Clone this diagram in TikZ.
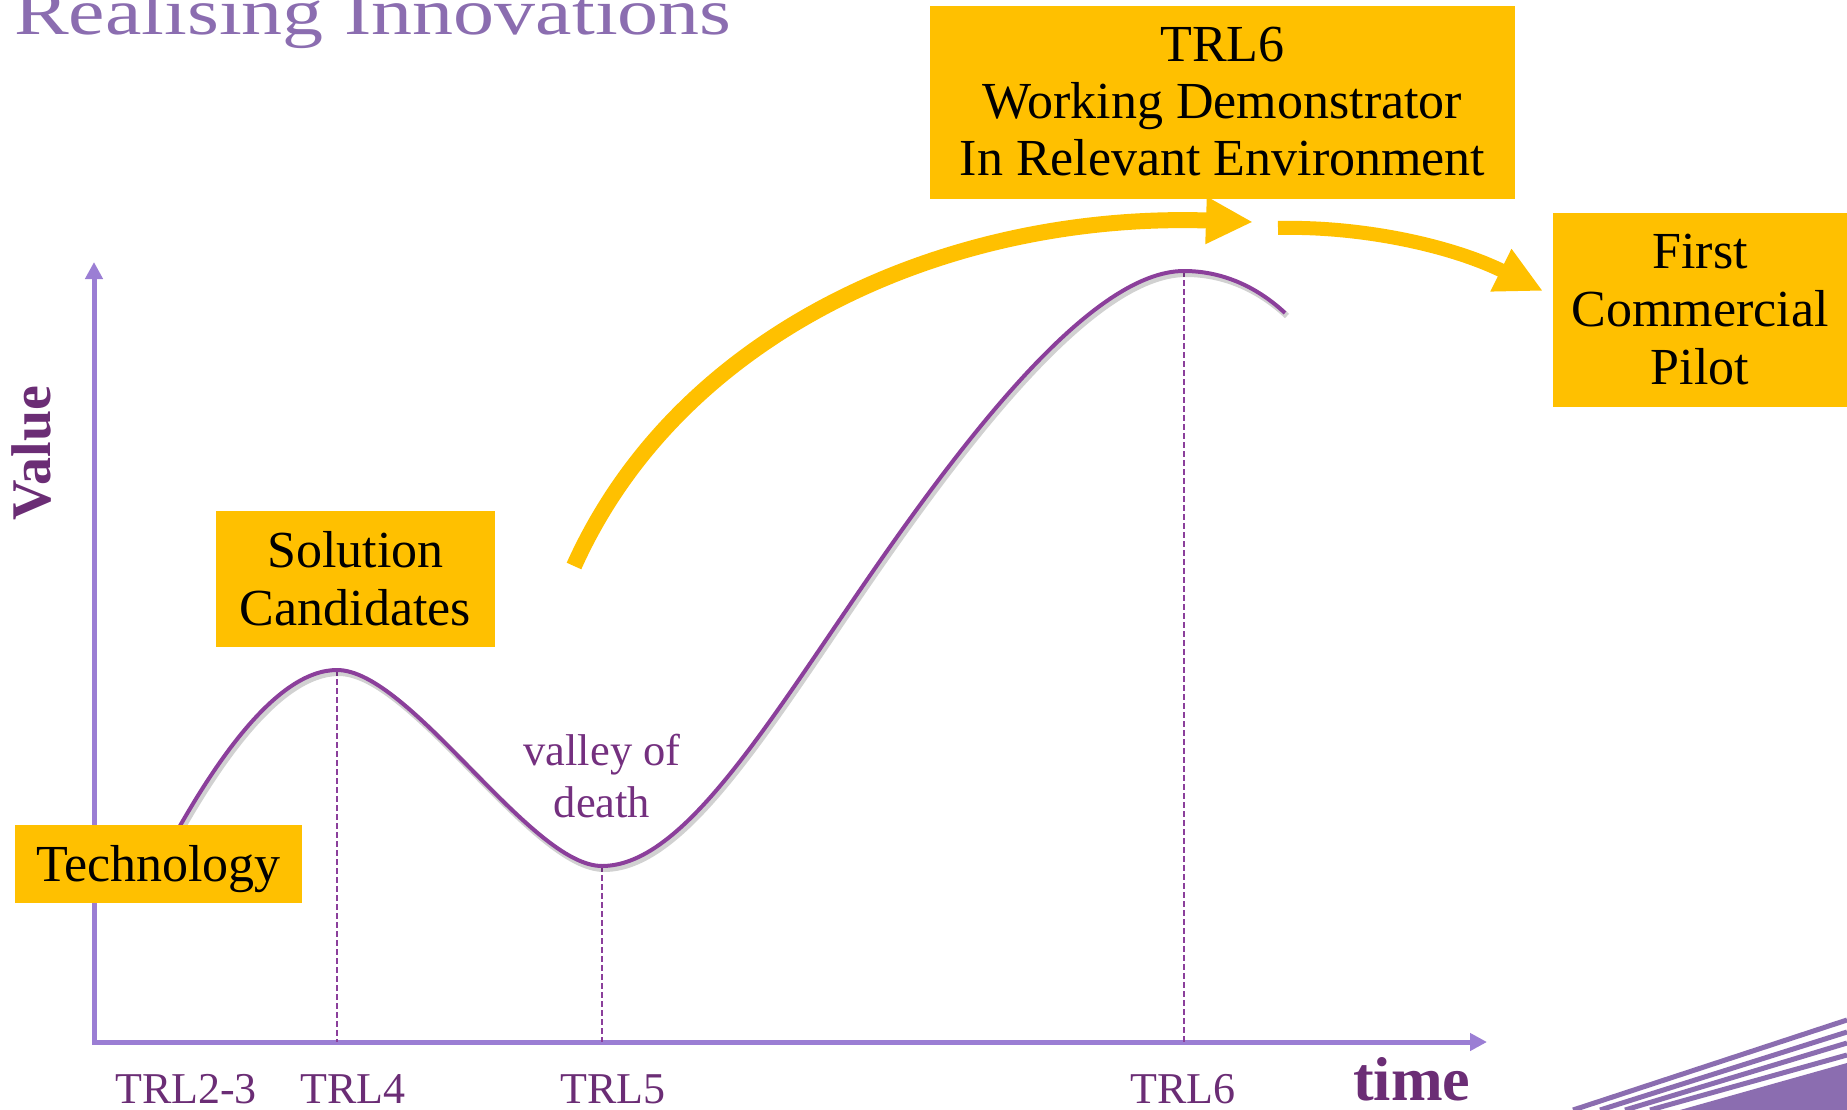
\documentclass[tikz,border=0pt]{standalone}
\usepackage{fontspec}
\setmainfont{Liberation Serif}
\usetikzlibrary{arrows.meta}
\definecolor{boxyellow}{HTML}{FFC000}
\definecolor{curvec}{HTML}{8B3F9B}
\definecolor{axisc}{HTML}{9B7ED4}
\definecolor{labc}{HTML}{6B2D75}
\definecolor{titlec}{HTML}{8B6DB0}
\definecolor{valc}{HTML}{74307F}
\begin{document}
\begin{tikzpicture}[x=1pt,y=-1pt,
  yboxnode/.style={fill=boxyellow, inner sep=0pt, outer sep=0pt, align=center, text=black,
                   font={\fontsize{52}{58}\selectfont}},
  axisline/.style={draw=axisc, line width=5pt,
                   {Triangle[length=17pt,width=17pt]}-{Triangle[length=17pt,width=17pt]}},
  curveline/.style={draw=curvec, line width=4pt,
                   preaction={draw=black, opacity=0.18, line width=6pt,
                              transform canvas={xshift=2pt,yshift=-3pt}}},
  dashline/.style={draw=curvec, line width=1.6pt, dash pattern=on 6pt off 3pt},
  yarrow/.style={draw=boxyellow, -{Triangle[length=47pt,width=44pt]}},
  trl/.style={text=labc, inner sep=0pt, anchor=base, font={\fontsize{44}{50}\selectfont}},
  axlabel/.style={text=labc, inner sep=0pt, font={\fontsize{56}{60}\selectfont\bfseries}},
  valtext/.style={text=valc, inner sep=0pt, align=center, font={\fontsize{44.5}{52}\selectfont}},
  stripe/.style={draw=titlec, line width=5pt}
]
\useasboundingbox (0,0) rectangle (1847,1110);

% title (cropped at top, as in the reference)
\node[anchor=base west, inner sep=0pt, text=titlec, font={\fontsize{82}{82}\selectfont}]
  (title) at (14,35) {\scalebox{1}[0.8]{Realising Innovations}};

% axes
\coordinate (O) at (94,1042);
\coordinate (yend) at (94,262);
\coordinate (xend) at (1487,1042);
\draw[axisline] (yend) -- (O) -- (xend);

% curve
\coordinate (c0) at (172,840);
\coordinate (pk1) at (337,670);
\coordinate (val) at (602,866);
\coordinate (mid) at (860,590);
\coordinate (pk2) at (1184,271);
\coordinate (cend) at (1285,313);
\draw[dashline] (pk1) -- (pk1 |- O);
\draw[dashline] (val) -- (val |- O);
\draw[dashline] (pk2) -- (pk2 |- O);
\draw[curveline] (c0) .. controls (212,768) and (275,670) .. (pk1)
  .. controls (410,670) and (530,866) .. (val)
  .. controls (680,866) and (760,736) .. (mid)
  .. controls (960,444) and (1090,271) .. (pk2)
  .. controls (1220,271) and (1255,285) .. (cend);

% yellow arrows
\coordinate (a1s) at (574,566);
\coordinate (a1e) at (1253,222);
\draw[yarrow, line width=16pt] (a1s) .. controls (680,330) and (950,212) .. (a1e);
\coordinate (a2s) at (1278,228);
\coordinate (a2e) at (1543,291);
\draw[yarrow, line width=14pt] (a2s) .. controls (1360,226) and (1450,245) .. (a2e);

% boxes
\node[yboxnode, minimum width=287pt, minimum height=78pt] (tech) at (158.5,864)
  {\rule{0pt}{56pt}Technology\rule[-22pt]{0pt}{22pt}};
\node[yboxnode, minimum width=279pt, minimum height=136pt] (sol) at (355.5,579)
  {\rule{0pt}{56pt}Solution\\Candidates\rule[-22pt]{0pt}{22pt}};
\node[yboxnode, minimum width=585pt, minimum height=193pt, font={\fontsize{52}{57}\selectfont}] (demo) at (1222.5,102.5)
  {\rule{0pt}{56pt}TRL6\\Working Demonstrator\\In Relevant Environment\rule[-23pt]{0pt}{23pt}};
\node[yboxnode, minimum width=294pt, minimum height=194pt] (pilot) at (1700,310)
  {\rule{0pt}{55pt}First\\Commercial\\Pilot\rule[-23pt]{0pt}{23pt}};

% valley text
\node[valtext, anchor=north] (vod) at (602,730) {\rule{0pt}{35pt}valley of\\death};

% axis labels
\node[axlabel, rotate=90, anchor=base] (value) at (50,453) {Value};
\node[axlabel, anchor=base west, font={\fontsize{62}{64}\selectfont\bfseries}] (time) at (1353,1100) {time};

% TRL labels
\node[trl] (trl23) at (186,1103) {TRL2-3};
\node[trl] (trl4) at (353,1103) {TRL4};
\node[trl] (trl5) at (613,1103) {TRL5};
\node[trl] (trl6) at (1183,1103) {TRL6};

% corner decoration
\draw[stripe] (1573,1110) -- (1847,1020);
\draw[stripe] (1600,1110) -- (1847,1032);
\draw[stripe] (1625,1110) -- (1847,1043);
\draw[stripe] (1650,1110) -- (1847,1055);
\fill[titlec] (1680,1110) -- (1847,1063) -- (1847,1110) -- cycle;
\end{tikzpicture}
\end{document}
